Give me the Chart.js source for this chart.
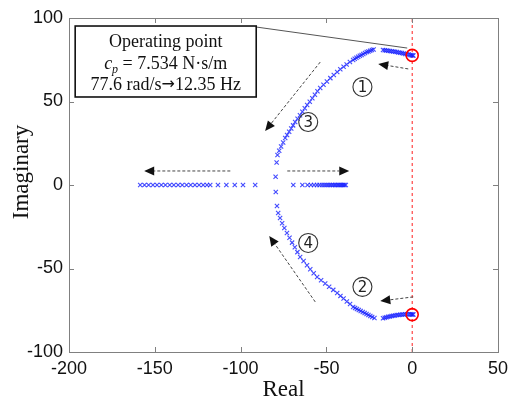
<!DOCTYPE html>
<html>
<head>
<meta charset="utf-8">
<script src="https://cdn.jsdelivr.net/npm/chart.js@4.4.1/dist/chart.umd.min.js"></script>
<style>
  html, body { margin: 0; padding: 0; background: #fff; }
  #wrap { width: 520px; height: 401px; }
</style>
</head>
<body>
<div id="wrap"><canvas id="locus"></canvas></div>
<script>
// root locus branches (real part, imaginary part)
const arcUpRe = [-22.5, -23.5, -24.5, -25.5, -26.5, -27.5, -28.5, -29.5, -30.5, -31.5, -32.5, -33.5, -34.4, -36.3, -38.2, -40.0, -41.9, -43.7, -45.7, -47.7, -49.7, -51.7, -53.6, -55.2, -56.7, -58.2, -59.7, -61.2, -62.6, -64.0, -65.4, -66.8, -68.2, -69.4, -70.5, -71.7, -72.9, -74.0, -75.2, -76.4, -77.5, -78.5, -79.0, -79.6];
const arcUpIm = [81.2, 80.8, 80.4, 80.0, 79.6, 79.0, 78.4, 77.9, 77.4, 76.8, 76.2, 75.6, 74.9, 73.6, 72.2, 70.8, 69.3, 67.7, 65.9, 64.0, 62.0, 60.0, 58.1, 56.1, 54.0, 52.0, 49.9, 47.9, 45.9, 43.8, 41.8, 39.7, 37.7, 35.7, 33.8, 31.9, 30.0, 28.1, 25.5, 23.0, 20.5, 18.0, 13.5, 5.0];

const arcLoRe = [-79.5, -78.8, -78.1, -77.0, -75.8, -74.5, -73.0, -71.5, -70.0, -68.4, -66.9, -65.3, -63.3, -61.3, -59.4, -57.4, -55.4, -53.1, -50.7, -48.4, -46.0, -43.7, -41.8, -40.0, -38.1, -36.2, -34.4, -33.3, -32.2, -31.1, -30.0, -28.8, -27.7, -26.6, -25.5, -24.4, -23.3, -22.0];
const arcLoIm = [-4.2, -12.6, -16.8, -19.8, -22.9, -25.8, -28.7, -31.6, -34.5, -37.3, -40.2, -43.1, -45.5, -48.0, -50.4, -52.8, -55.1, -57.1, -59.0, -60.9, -62.8, -64.7, -66.4, -68.0, -69.7, -71.3, -73.0, -73.6, -74.2, -74.9, -75.5, -76.1, -76.7, -77.3, -77.9, -78.5, -79.0, -79.6];

const br1Re = [-17.0, -16.0, -15.0, -14.0, -13.0, -12.0, -11.0, -10.0, -9.0, -8.0, -7.0, -6.0, -5.0, -4.0, -3.0, -2.0, -1.0, -0.4, 0.2, 0.7];
const br1Im = [80.8, 80.7, 80.5, 80.4, 80.3, 80.1, 80.0, 79.8, 79.6, 79.4, 79.2, 79.0, 78.8, 78.5, 78.3, 78.1, 77.9, 77.7, 77.6, 77.5];
const br2Re = [-17.0, -16.0, -15.0, -14.0, -13.0, -12.0, -11.0, -10.0, -9.0, -8.0, -7.0, -6.0, -5.0, -4.0, -3.0, -2.0, -1.0, -0.4, 0.2, 0.7];
const br2Im = [-79.8, -79.5, -79.2, -78.9, -78.7, -78.5, -78.3, -78.1, -77.9, -77.8, -77.7, -77.6, -77.5, -77.4, -77.4, -77.4, -77.4, -77.5, -77.5, -77.5];

const realLeftRe = [-158.5, -156.0, -153.6, -151.1, -148.7, -146.2, -143.8, -141.3, -138.9, -136.4, -134.0, -131.5, -129.1, -126.6, -124.2, -121.8, -119.6, -117.7, -113.2, -108.3, -103.4, -98.6, -91.5];
const realLeftIm = [0, 0, 0, 0, 0, 0, 0, 0, 0, 0, 0, 0, 0, 0, 0, 0, 0, 0, 0, 0, 0, 0, 0];
const realRightRe = [-69.3, -64.0, -61.0, -59.0, -57.2, -55.5, -54.0, -52.6, -51.3, -50.1, -49.0, -47.9, -46.9, -45.9, -45.0, -44.1, -43.2, -42.4, -41.6, -40.8, -40.1, -39.4, -38.7];
const realRightIm = [0, 0, 0, 0, 0, 0, 0, 0, 0, 0, 0, 0, 0, 0, 0, 0, 0, 0, 0, 0, 0, 0, 0];

// operating point (circled in red)
const opRe = [0, 0];
const opIm = [77.6, -77.6];

const xTicks = [-200, -150, -100, -50, 0, 50];
const yTicks = [-100, -50, 0, 50, 100];

// direction arrows, tail -> tip
const arrowFrom = [[-2.3, 69.5], [-53.6, 73.6], [-106, 8.4], [-72.8, 8.4], [-56.5, -70], [0.6, -67]];
const arrowTo = [[-19.8, 72.5], [-85.7, 32.3], [-156.2, 8.4], [-36.7, 8.4], [-83.3, -30.5], [-18.6, -69.5]];

const branchLabels = ['1', '2', '3', '4'];
const labelRe = [-29, -29, -60.6, -60.6];
const labelIm = [58.7, -61, 37.7, -34.7];

const noteTitle = 'Operating point';
const noteGain = '= 7.534 N\u00b7s/m';
const noteFreq = ['77.6 rad/s', '\u2192', '12.35 Hz'];

const pts = (re, im) => re.map((x, i) => ({ x: x, y: im[i] }));

function crosses(re, im) {
    return {
        data: pts(re, im),
        pointStyle: 'crossRot',
        pointRadius: 3,
        pointBorderWidth: 1.1,
        borderColor: 'rgba(20, 30, 255, 0.8)',
        backgroundColor: 'rgba(20, 30, 255, 0.8)',
        showLine: false,
        order: 3
    };
}

function arrow(ctx, x0, y0, x1, y1) {
    const ang = Math.atan2(y1 - y0, x1 - x0);
    const head = 10, half = 4.5;
    const bx = x1 - head * Math.cos(ang), by = y1 - head * Math.sin(ang);
    ctx.strokeStyle = '#444';
    ctx.lineWidth = 1;
    ctx.setLineDash([3, 2]);
    ctx.beginPath();
    ctx.moveTo(x0, y0);
    ctx.lineTo(bx, by);
    ctx.stroke();
    ctx.setLineDash([]);
    ctx.fillStyle = '#111';
    ctx.beginPath();
    ctx.moveTo(x1, y1);
    ctx.lineTo(bx + half * Math.sin(ang), by - half * Math.cos(ang));
    ctx.lineTo(bx - half * Math.sin(ang), by + half * Math.cos(ang));
    ctx.closePath();
    ctx.fill();
}

const serif = '"Liberation Serif"';

const decor = {
    id: 'decor',
    afterDraw(chart) {
        const ctx = chart.ctx;
        const a = chart.chartArea;
        const sx = chart.scales.x, sy = chart.scales.y;
        ctx.save();

        // axes box with inward ticks
        ctx.strokeStyle = '#808080';
        ctx.lineWidth = 1;
        ctx.strokeRect(a.left + 0.5, a.top + 0.5, a.right - a.left, a.bottom - a.top);
        ctx.beginPath();
        xTicks.forEach(v => {
            const px = Math.round(sx.getPixelForValue(v)) + 0.5;
            ctx.moveTo(px, a.bottom); ctx.lineTo(px, a.bottom - 5);
            ctx.moveTo(px, a.top); ctx.lineTo(px, a.top + 5);
        });
        yTicks.forEach(v => {
            const py = Math.round(sy.getPixelForValue(v)) + 0.5;
            ctx.moveTo(a.left, py); ctx.lineTo(a.left + 5, py);
            ctx.moveTo(a.right, py); ctx.lineTo(a.right - 5, py);
        });
        ctx.stroke();

        // arrows
        arrowFrom.forEach((f, i) => {
            const t = arrowTo[i];
            arrow(ctx, sx.getPixelForValue(f[0]), sy.getPixelForValue(f[1]),
                sx.getPixelForValue(t[0]), sy.getPixelForValue(t[1]));
        });

        // circled branch numbers
        branchLabels.forEach((s, i) => {
            const cx = sx.getPixelForValue(labelRe[i]), cy = sy.getPixelForValue(labelIm[i]);
            ctx.strokeStyle = '#333';
            ctx.lineWidth = 1.1;
            ctx.beginPath();
            ctx.arc(cx, cy, 9.5, 0, Math.PI * 2);
            ctx.stroke();
            ctx.fillStyle = '#222';
            ctx.font = '15px "DejaVu Sans"';
            ctx.textAlign = 'center';
            ctx.textBaseline = 'middle';
            ctx.fillText(s, cx, cy + 1);
        });

        // annotation box + leader line
        const bl = sx.getPixelForValue(-196.4), br = sx.getPixelForValue(-90.9);
        const bt = sy.getPixelForValue(95.2), bb = sy.getPixelForValue(52.7);
        ctx.strokeStyle = '#555';
        ctx.lineWidth = 1;
        ctx.beginPath();
        ctx.moveTo(br, bt + 1);
        ctx.lineTo(sx.getPixelForValue(-2.9), sy.getPixelForValue(82));
        ctx.stroke();
        ctx.fillStyle = '#fff';
        ctx.fillRect(bl, bt, br - bl, bb - bt);
        ctx.strokeStyle = '#111';
        ctx.lineWidth = 1.6;
        ctx.strokeRect(bl, bt, br - bl, bb - bt);

        const cx = (bl + br) / 2;
        ctx.fillStyle = '#111';
        ctx.textBaseline = 'alphabetic';
        ctx.textAlign = 'center';
        ctx.font = '18px ' + serif;
        ctx.fillText(noteTitle, cx, bt + 21);

        // c_p line
        ctx.textAlign = 'left';
        ctx.font = 'italic 18px ' + serif;
        const wc = ctx.measureText('c').width;
        ctx.font = 'italic 12px ' + serif;
        const wp = ctx.measureText('p').width;
        ctx.font = '18px ' + serif;
        const wr = ctx.measureText(' ' + noteGain).width;
        let x0 = cx - (wc + wp + wr) / 2;
        const base = bt + 43;
        ctx.font = 'italic 18px ' + serif;
        ctx.fillText('c', x0, base);
        ctx.font = 'italic 12px ' + serif;
        ctx.fillText('p', x0 + wc, base + 4);
        ctx.font = '18px ' + serif;
        ctx.fillText(' ' + noteGain, x0 + wc + wp, base);

        // frequency line, long arrow glyph
        const arrowFont = '16px "DejaVu Sans"';
        ctx.font = '18px ' + serif;
        const w1 = ctx.measureText(noteFreq[0]).width;
        const w3 = ctx.measureText(noteFreq[2]).width;
        ctx.font = arrowFont;
        const w2 = ctx.measureText(noteFreq[1]).width;
        let x1 = cx - (w1 + w2 + w3) / 2;
        const base3 = bt + 64;
        ctx.font = '18px ' + serif;
        ctx.fillText(noteFreq[0], x1, base3);
        ctx.font = arrowFont;
        ctx.fillText(noteFreq[1], x1 + w1, base3 - 1);
        ctx.font = '18px ' + serif;
        ctx.fillText(noteFreq[2], x1 + w1 + w2, base3);

        // axis titles
        ctx.fillStyle = '#111';
        ctx.font = '23px ' + serif;
        ctx.textAlign = 'center';
        ctx.fillText('Real', (a.left + a.right) / 2, 396);
        ctx.translate(28, 172);
        ctx.rotate(-Math.PI / 2);
        ctx.fillText('Imaginary', 0, 0);
        ctx.restore();
    }
};

const tickFont = { family: '"Liberation Sans", Arial, sans-serif', size: 18 };

new Chart(document.getElementById('locus'), {
    type: 'scatter',
    data: {
        datasets: [
            {
                type: 'line',
                data: [{ x: 0, y: -100 }, { x: 0, y: 100 }],
                borderColor: '#ff2020',
                borderWidth: 1,
                borderDash: [3, 3],
                pointRadius: 0,
                showLine: true,
                order: 4
            },
            crosses(arcUpRe, arcUpIm),
            crosses(arcLoRe, arcLoIm),
            crosses(br1Re, br1Im),
            crosses(br2Re, br2Im),
            crosses(realLeftRe, realLeftIm),
            crosses(realRightRe, realRightIm),
            {
                data: pts(opRe, opIm),
                pointStyle: 'circle',
                pointRadius: 6,
                pointBorderWidth: 1.6,
                borderColor: '#ff0000',
                backgroundColor: 'rgba(0,0,0,0)',
                order: 1
            }
        ]
    },
    options: {
        responsive: true,
        maintainAspectRatio: false,
        animation: false,
        layout: { padding: { top: 18, right: 22, left: 0, bottom: 0 } },
        plugins: { legend: { display: false }, tooltip: { enabled: false } },
        scales: {
            x: {
                type: 'linear',
                min: -200, max: 50,
                grid: { display: false, drawTicks: false },
                border: { display: false },
                ticks: { stepSize: 50, font: tickFont, color: '#111', padding: 6, autoSkip: false, maxRotation: 0 },
                afterFit(scale) { scale.height = 49; }
            },
            y: {
                type: 'linear',
                min: -100, max: 100,
                grid: { display: false, drawTicks: false },
                border: { display: false },
                ticks: { stepSize: 50, font: tickFont, color: '#111', padding: 6, autoSkip: false },
                afterFit(scale) { scale.width = 69; }
            }
        }
    },
    plugins: [decor]
});
</script>
</body>
</html>
